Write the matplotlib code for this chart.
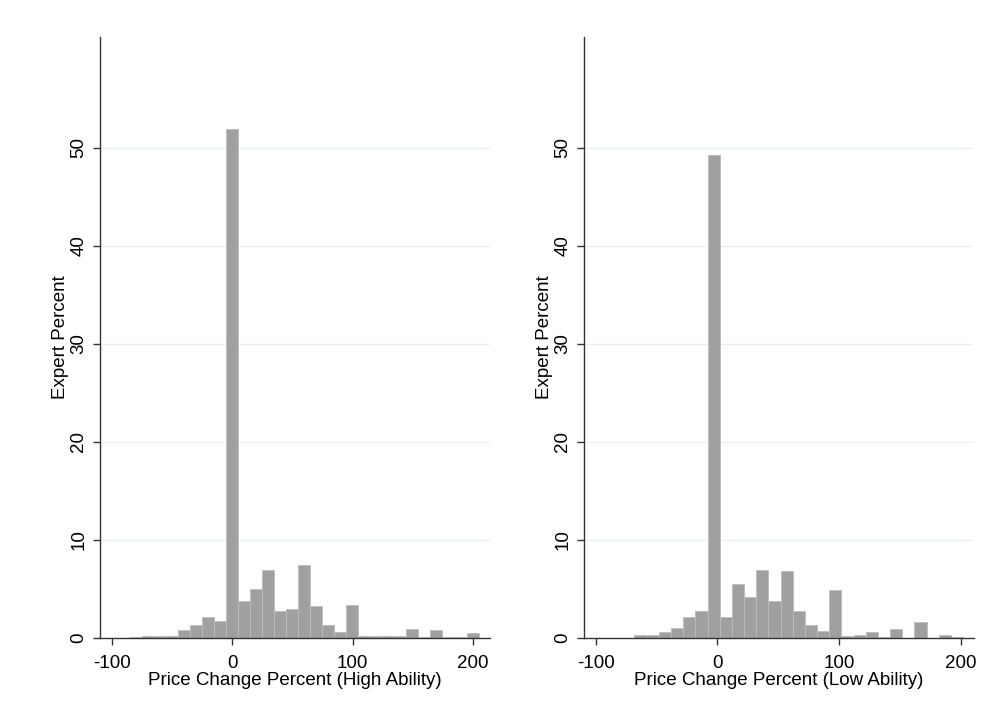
import numpy as np
import matplotlib
matplotlib.use("Agg")
import matplotlib.pyplot as plt

plt.rcParams["font.family"] = ["Liberation Sans", "DejaVu Sans"]
plt.rcParams["axes.unicode_minus"] = False

# Histogram of price change (percent of experts per 10-point bin)
high_start = -85.5
high_width = 10.0
high_pct = [0.10, 0.17, 0.25, 0.20, 0.85, 1.33, 2.15, 1.74, 51.9, 3.82,
            4.95, 6.96, 2.76, 2.97, 7.40, 3.31, 1.33, 0.58, 3.41, 0.17,
            0.24, 0.20, 0.17, 0.92, 0.10, 0.85, 0.10, 0.10, 0.55]

low_start = -68.0
low_width = 10.0
low_pct = [0.34, 0.27, 0.58, 1.06, 2.12, 2.76, 49.3, 2.15, 5.46, 4.16,
           6.89, 3.75, 6.79, 2.76, 1.33, 0.72, 4.85, 0.24, 0.27, 0.58,
           0.10, 0.92, 0.03, 1.64, 0.00, 0.30, 0.13]

x_ticks = [-100, 0, 100, 200]
y_ticks = [0, 10, 20, 30, 40, 50]

panels = [
    (high_start, high_width, high_pct, "Price Change Percent (High Ability)", (-110, 214)),
    (low_start, low_width, low_pct, "Price Change Percent (Low Ability)", (-109.5, 211)),
]

W, H = 983, 725
fig = plt.figure(figsize=(W / 100, H / 100), dpi=100)
lefts = [100, 584]
for (start, width, pct, xlabel, xlim), left in zip(panels, lefts):
    ax = fig.add_axes([left / W, (H - 638) / H, 390 / W, (638 - 37) / H])
    edges = start + width * np.arange(len(pct))
    ax.bar(edges, pct, width=width, align="edge", color="#a0a0a0",
           edgecolor="#bdbdbd", linewidth=0.6, zorder=2)
    ax.set_xlim(*xlim)
    ax.set_ylim(0, 61.3)
    ax.set_xticks(x_ticks)
    ax.set_yticks(y_ticks)
    ax.set_yticklabels([str(v) for v in y_ticks], rotation=90, va="center")
    for v in y_ticks[1:]:
        ax.axhline(v, color="#eaf0f3", linewidth=1.0, zorder=1)
    for s in ["top", "right"]:
        ax.spines[s].set_visible(False)
    for s in ["left", "bottom"]:
        ax.spines[s].set_color("#333333")
        ax.spines[s].set_linewidth(1.0)
    ax.tick_params(direction="out", length=5, width=1.0, color="#333333",
                   labelsize=13.5, pad=4)
    ax.tick_params(axis="x", pad=7)
    ax.set_xlabel(xlabel, fontsize=13.5, labelpad=0)
    ax.set_ylabel("Expert Percent", fontsize=13.5, labelpad=1)

fig.savefig("out.png", dpi=100)
